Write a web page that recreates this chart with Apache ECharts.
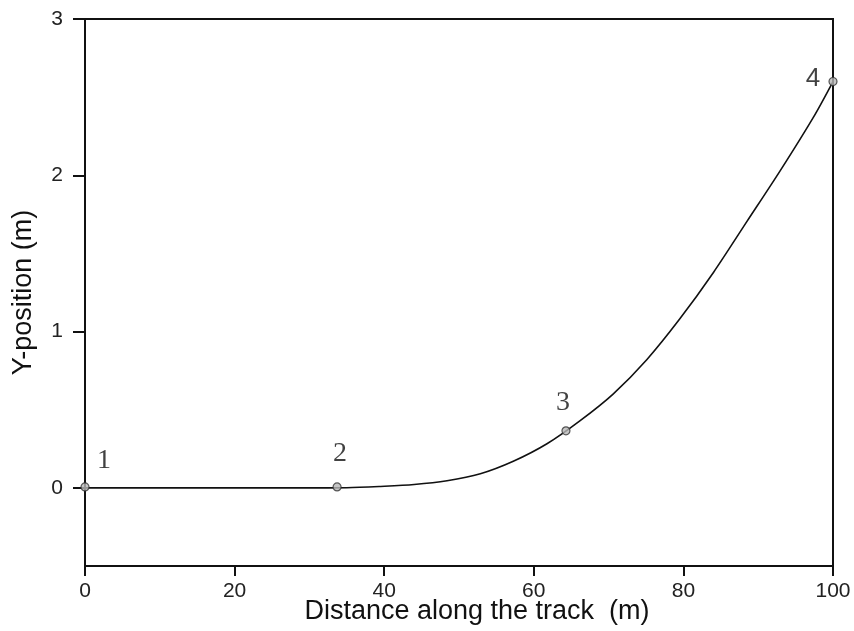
<!DOCTYPE html>
<html><head><meta charset="utf-8">
<script src="https://cdn.jsdelivr.net/npm/echarts@6/dist/echarts.min.js"></script>
<style>html,body{margin:0;padding:0;background:#fff}#c{width:854px;height:631px}</style>
</head><body><div id="c"></div>
<script>
// Track curve (distance m, y-position m)
const curveX = [0, 10, 20, 30, 35, 39.5, 44, 48.4, 52.85, 57.26, 61.76, 66.2, 70.6, 75.1, 79.5, 84.04, 88.5, 92.95, 97.41, 100];
const curveY = [0, 0, 0, 0, 0.001, 0.009, 0.021, 0.045, 0.09, 0.17, 0.282, 0.43, 0.6, 0.82, 1.08, 1.38, 1.705, 2.03, 2.374, 2.6];
// Marked points
const pointX = [0, 33.7, 64.3, 100];
const pointY = [0.006, 0.006, 0.365, 2.6];
const pointLabels = ['1', '2', '3', '4'];
const xTicks = [0, 20, 40, 60, 80, 100];
const yTicks = [0, 1, 2, 3];

const labelOffsets = [[19, -26], [3, -33], [-3, -28], [-20, -3]];
const labelFonts = ['Liberation Serif', 'Liberation Serif', 'Liberation Serif', 'Liberation Sans'];
const labelSizes = [28, 28, 28, 26];

const chart = echarts.init(document.getElementById('c'));
chart.setOption({
  animation: false,
  backgroundColor: '#fff',
  grid: { left: 85, right: 21, top: 19, bottom: 65, outerBoundsMode: 'none', containLabel: false,
          show: true, borderColor: '#111', borderWidth: 2, backgroundColor: 'transparent' },
  xAxis: {
    type: 'value', min: 0, max: 100, interval: 20,
    name: 'Distance along the track  (m)', nameLocation: 'middle', nameGap: 32, nameMoveOverlap: false,
    nameTextStyle: { fontFamily: 'Liberation Sans', fontSize: 27, color: '#111', padding: [0, 0, 0, 36] },
    axisLine: { show: true, onZero: false, lineStyle: { color: '#111', width: 2 } },
    axisTick: { show: true, inside: false, length: 10, lineStyle: { color: '#111', width: 2 }, customValues: xTicks },
    axisLabel: { fontFamily: 'Liberation Sans', fontSize: 21, color: '#222', margin: 15, customValues: xTicks },
    splitLine: { show: false }
  },
  yAxis: {
    type: 'value', min: -0.5, max: 3, interval: 0.5,
    name: 'Y-position (m)', nameLocation: 'middle', nameGap: 48, nameRotate: 90, nameMoveOverlap: false,
    nameTextStyle: { fontFamily: 'Liberation Sans', fontSize: 27, color: '#111' },
    axisLine: { show: true, onZero: false, lineStyle: { color: '#111', width: 2 } },
    axisTick: { show: true, inside: false, length: 12, lineStyle: { color: '#111', width: 2 }, customValues: yTicks },
    axisLabel: { fontFamily: 'Liberation Sans', fontSize: 21, color: '#222', margin: 22, customValues: yTicks },
    splitLine: { show: false }
  },
  series: [
    {
      type: 'line', data: curveX.map((x, i) => [x, curveY[i]]),
      smooth: 0.3, showSymbol: false,
      lineStyle: { color: '#111', width: 1.6 }, z: 3
    },
    {
      type: 'scatter', symbol: 'circle', symbolSize: 8,
      itemStyle: { color: '#b8b8b8', borderColor: '#333', borderWidth: 1.2 },
      data: pointX.map((x, i) => ({
        value: [x, pointY[i]],
        label: {
          show: true, formatter: pointLabels[i], position: 'inside',
          offset: labelOffsets[i], fontFamily: labelFonts[i], fontSize: labelSizes[i], color: '#111'
        }
      })),
      z: 5
    }
  ]
});
</script>
</body></html>
